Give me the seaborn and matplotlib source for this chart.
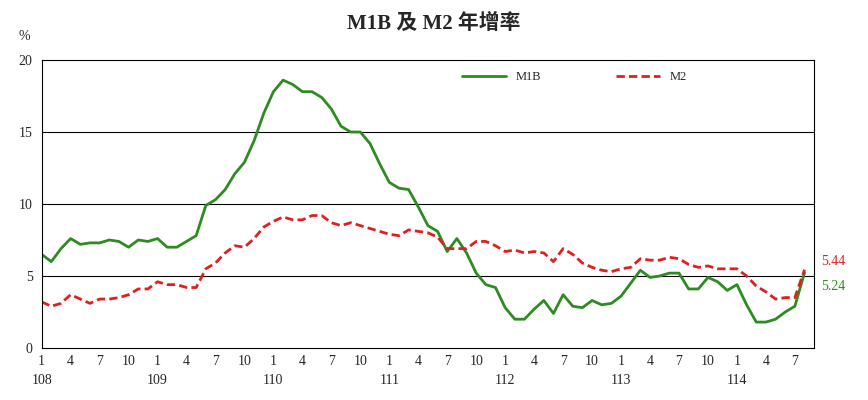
import matplotlib
matplotlib.use("Agg")
import matplotlib.pyplot as plt
import seaborn as sns
import pandas as pd
import numpy as np

m1b = [6.5,6.0,6.9,7.6,7.2,7.3,7.3,7.5,7.4,7.0,7.5,7.4,
       7.6,7.0,7.0,7.4,7.8,9.9,10.3,11.0,12.1,12.9,14.4,16.3,
       17.8,18.6,18.3,17.8,17.8,17.4,16.6,15.4,15.0,15.0,14.2,12.8,
       11.5,11.1,11.0,9.8,8.5,8.1,6.7,7.6,6.6,5.2,4.4,4.2,
       2.8,2.0,2.0,2.7,3.3,2.4,3.7,2.9,2.8,3.3,3.0,3.1,
       3.6,4.5,5.4,4.9,5.0,5.2,5.2,4.1,4.1,4.9,4.6,4.0,
       4.4,3.0,1.8,1.8,2.0,2.5,2.9,5.24]
m2 = [3.2,2.9,3.1,3.7,3.4,3.1,3.4,3.4,3.5,3.7,4.1,4.1,
      4.6,4.4,4.4,4.2,4.2,5.5,5.9,6.6,7.1,7.0,7.6,8.4,
      8.8,9.1,8.9,8.9,9.2,9.2,8.7,8.5,8.7,8.5,8.3,8.1,
      7.9,7.8,8.2,8.1,8.0,7.7,6.9,6.9,6.9,7.4,7.4,7.1,
      6.7,6.8,6.6,6.7,6.6,6.0,6.9,6.5,5.9,5.6,5.4,5.3,
      5.5,5.6,6.2,6.1,6.1,6.3,6.2,5.8,5.6,5.7,5.5,5.5,
      5.5,5.0,4.3,3.9,3.4,3.5,3.5,5.44]
years = ["108","109","110","111","112","113","114"]

idx = np.arange(len(m1b))
df = pd.DataFrame({"i": idx, "M1B": m1b, "M2": m2})

sns.set_theme(style="white")
plt.rcParams['font.family'] = ['Liberation Serif', 'Noto Sans CJK TC']
fig = plt.figure(figsize=(8.68, 4.0), dpi=100)
ax = fig.add_axes([0.048, 0.13, 0.89, 0.72])

sns.lineplot(data=df, x="i", y="M1B", ax=ax, color="#2e8b22", lw=2.0, label="M1B")
sns.lineplot(data=df, x="i", y="M2", ax=ax, color="#e02020", lw=2.0, ls=(0,(3,1.5)), label="M2")

for y in [5, 10, 15]:
    ax.axhline(y, color="black", lw=0.8, zorder=0)
ax.set_xlim(0, 80)
ax.set_ylim(0, 20)
ax.set_yticks([0,5,10,15,20])
ticks = np.arange(0, 80, 3)
ax.set_xticks(ticks)
ax.set_xticklabels([str(t % 12 + 1) for t in ticks], fontsize=10)
ax.tick_params(axis='both', direction='out', length=3, labelsize=10)
ax.tick_params(axis='x', pad=2)
for k, yr in enumerate(years):
    ax.text(k*12, -0.09, yr, transform=ax.get_xaxis_transform(), ha='center', va='top', fontsize=10)
for s in ax.spines.values():
    s.set_color("black"); s.set_linewidth(0.8)
ax.set_xlabel(""); ax.set_ylabel("")
ax.text(-0.03, 1.07, "%", transform=ax.transAxes, fontsize=10, ha='left')
ax.text(80.7, 5.44 + 0.6, "5.44", color="#e02020", fontsize=10, va='center')
ax.text(80.7, 4.24, "5.24", color="#2e8b22", fontsize=10, va='center')
ax.legend(loc='upper center', bbox_to_anchor=(0.69, 1.0), ncol=2, frameon=False,
          fontsize=9, handlelength=3.5, columnspacing=6)
fig.suptitle("M1B 及 M2 年增率", y=0.965, fontsize=15, fontweight='bold')
fig.savefig("out.png", dpi=100)
